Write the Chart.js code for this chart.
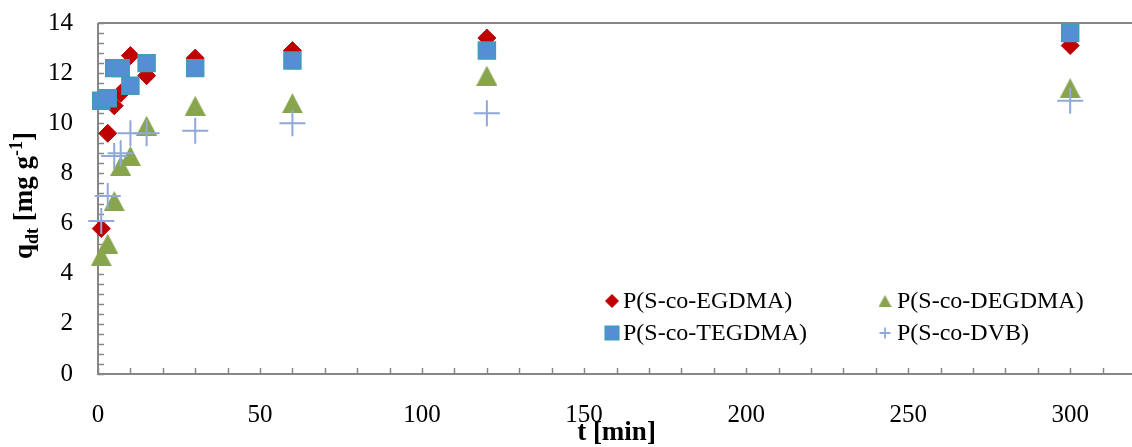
<!DOCTYPE html>
<html>
<head>
<meta charset="utf-8">
<script src="https://cdn.jsdelivr.net/npm/chart.js@4/dist/chart.umd.min.js"></script>
<style>
  html, body { margin: 0; padding: 0; overflow: hidden; background: #fff; }
  #wrap { width: 1132px; height: 447px; overflow: hidden; }
</style>
</head>
<body>
<div id="wrap">
  <canvas id="kinetics" width="1150" height="460"></canvas>
</div>
<script>
// contact time, min
const times = [1, 3, 5, 7, 10, 15, 30, 60, 120, 300];

// sorption capacity q_dt, mg/g
const qEGDMA  = [5.8, 9.6, 10.7, 11.2, 12.7, 11.9, 12.6, 12.9, 13.4, 13.1];
const qDEGDMA = [4.7, 5.2, 6.9, 8.3, 8.7, 9.9, 10.7, 10.8, 11.9, 11.4];
const qTEGDMA = [10.9, 11.0, 12.2, 12.2, 11.5, 12.4, 12.2, 12.5, 12.9, 13.6];
const qDVB    = [6.1, 7.1, 8.7, 8.8, 9.6, 9.6, 9.7, 10.0, 10.4, 10.9];

const seriesNames = ['P(S-co-EGDMA)', 'P(S-co-DEGDMA)', 'P(S-co-TEGDMA)', 'P(S-co-DVB)'];
const xTicks = [0, 50, 100, 150, 200, 250, 300];
const yTicks = [0, 2, 4, 6, 8, 10, 12, 14];

const SERIF = "'Liberation Serif', 'Times New Roman', serif";
const AXIS_GREY = '#878787';

const RED = '#c00000';
const GREEN = '#88a44c';
const BLUE = '#558ed5';
const TEAL = '#3f9db8';
const LIGHT_BLUE = '#8fa9d8';

// excel-style triangle: as tall as it is wide, centred on its box
function triangleMarker(w, h, color) {
    const c = document.createElement('canvas');
    c.width = w;
    c.height = h;
    const g = c.getContext('2d');
    g.fillStyle = color;
    g.beginPath();
    g.moveTo(w / 2, 0);
    g.lineTo(w, h);
    g.lineTo(0, h);
    g.closePath();
    g.fill();
    return c;
}

const bigTriangle = triangleMarker(21, 20, GREEN);
const smallTriangle = triangleMarker(13, 12, GREEN);

function pts(ys) {
    return times.map((t, i) => ({ x: t, y: ys[i] }));
}

// draws frame, inward tick marks, axis titles and the legend
const decorations = {
    id: 'decorations',
    beforeDatasetsDraw(chart) {
        const { ctx, chartArea: a, scales: { x, y } } = chart;
        ctx.save();
        ctx.strokeStyle = AXIS_GREY;

        // minor ticks every 0.4 on y, every 10 on x
        ctx.beginPath();
        for (let k = 0; k <= 35; k++) {
            const py = Math.round(y.getPixelForValue(k * 0.4)) + 0.5;
            ctx.moveTo(a.left, py);
            ctx.lineTo(a.left + 6, py);
        }
        for (let k = 0; k <= 32; k++) {
            const px = Math.round(x.getPixelForValue(k * 10)) + 0.5;
            ctx.moveTo(px, a.bottom);
            ctx.lineTo(px, a.bottom - 6);
        }
        ctx.lineWidth = 1.5;
        ctx.stroke();

        ctx.lineWidth = 2;
        ctx.beginPath();
        ctx.moveTo(a.left, a.top);
        ctx.lineTo(a.right, a.top);
        ctx.moveTo(a.left, a.top);
        ctx.lineTo(a.left, a.bottom);
        ctx.lineTo(a.right, a.bottom);
        ctx.stroke();
        ctx.restore();
    },
    afterDraw(chart) {
        const { ctx, chartArea: a } = chart;
        ctx.save();
        ctx.fillStyle = '#000';

        // x title
        ctx.font = 'bold 27px ' + SERIF;
        ctx.textAlign = 'center';
        ctx.textBaseline = 'alphabetic';
        ctx.fillText('t [min]', (a.left + a.right) / 2, 440);

        // y title with sub- and superscript
        const parts = [
            { t: 'q', size: 27, dy: 0 },
            { t: 'dt', size: 18, dy: 6 },
            { t: ' [mg g', size: 27, dy: 0 },
            { t: '-1', size: 18, dy: -10 },
            { t: ']', size: 27, dy: 0 }
        ];
        let total = 0;
        parts.forEach(p => {
            ctx.font = 'bold ' + p.size + 'px ' + SERIF;
            p.w = ctx.measureText(p.t).width;
            total += p.w;
        });
        ctx.translate(32, (a.top + a.bottom) / 2 - 3);
        ctx.rotate(-Math.PI / 2);
        ctx.textAlign = 'left';
        let cx = -total / 2;
        parts.forEach(p => {
            ctx.font = 'bold ' + p.size + 'px ' + SERIF;
            ctx.fillText(p.t, cx, p.dy);
            cx += p.w;
        });
        ctx.restore();

        // legend, two columns
        ctx.save();
        const rows = [301, 333];
        const markX = [612, 885];
        const textX = [623, 897];
        const items = [
            { name: seriesNames[0], col: 0, row: 0, style: 'rectRot', r: 6.5, fill: RED, stroke: RED, bw: 1 },
            { name: seriesNames[1], col: 1, row: 0, style: smallTriangle },
            { name: seriesNames[2], col: 0, row: 1, style: 'rect', r: 9.6, fill: BLUE, stroke: TEAL, bw: 1.5 },
            { name: seriesNames[3], col: 1, row: 1, style: 'cross', r: 5.5, fill: LIGHT_BLUE, stroke: LIGHT_BLUE, bw: 1.8 }
        ];
        items.forEach(it => {
            const mx = markX[it.col];
            const my = rows[it.row];
            if (typeof it.style === 'string') {
                ctx.fillStyle = it.fill;
                ctx.strokeStyle = it.stroke;
                ctx.lineWidth = it.bw;
                Chart.helpers.drawPoint(ctx, { pointStyle: it.style, radius: it.r, rotation: 0, borderWidth: it.bw }, mx, my);
            } else {
                ctx.drawImage(it.style, mx - it.style.width / 2, my - it.style.height / 2);
            }
            ctx.fillStyle = '#000';
            ctx.font = '24px ' + SERIF;
            ctx.textAlign = 'left';
            ctx.textBaseline = 'middle';
            ctx.fillText(it.name, textX[it.col], my + 1);
        });
        ctx.restore();
    }
};

const ctx = document.getElementById('kinetics').getContext('2d');
new Chart(ctx, {
    type: 'scatter',
    data: {
        datasets: [
            {
                label: seriesNames[0],
                data: pts(qEGDMA),
                pointStyle: 'rectRot',
                pointRadius: 9,
                backgroundColor: RED,
                borderColor: RED,
                borderWidth: 1,
                order: 4
            },
            {
                label: seriesNames[1],
                data: pts(qDEGDMA),
                pointStyle: bigTriangle,
                backgroundColor: GREEN,
                borderColor: GREEN,
                order: 3
            },
            {
                label: seriesNames[2],
                data: pts(qTEGDMA),
                pointStyle: 'rect',
                pointRadius: 12,
                backgroundColor: BLUE,
                borderColor: TEAL,
                borderWidth: 1.5,
                order: 2
            },
            {
                label: seriesNames[3],
                data: pts(qDVB),
                pointStyle: 'cross',
                pointRadius: 13,
                backgroundColor: LIGHT_BLUE,
                borderColor: LIGHT_BLUE,
                borderWidth: 2,
                order: 1
            }
        ].map(d => Object.assign(d, { clip: false, pointHoverRadius: d.pointRadius }))
    },
    options: {
        responsive: false,
        animation: false,
        devicePixelRatio: 1,
        layout: { padding: { top: 23, right: 8, left: 0, bottom: 0 } },
        plugins: {
            legend: { display: false },
            tooltip: { enabled: false }
        },
        scales: {
            x: {
                type: 'linear',
                min: 0,
                max: 320,
                grid: { display: false, drawTicks: false },
                border: { display: false },
                afterBuildTicks: s => { s.ticks = xTicks.map(v => ({ value: v })); },
                ticks: {
                    padding: 26,
                    color: '#000',
                    maxRotation: 0,
                    font: { family: SERIF, size: 25 }
                },
                afterFit: s => {
                    s.height = 86;
                    s.paddingLeft = 0;
                    s.paddingRight = 0;
                }
            },
            y: {
                min: 0,
                max: 14,
                grid: { display: false, drawTicks: false },
                border: { display: false },
                afterBuildTicks: s => { s.ticks = yTicks.map(v => ({ value: v })); },
                ticks: {
                    padding: 25,
                    color: '#000',
                    font: { family: SERIF, size: 25 }
                },
                afterFit: s => {
                    s.width = 98;
                    s.paddingTop = 0;
                    s.paddingBottom = 0;
                }
            }
        }
    },
    plugins: [decorations]
});
</script>
</body>
</html>
